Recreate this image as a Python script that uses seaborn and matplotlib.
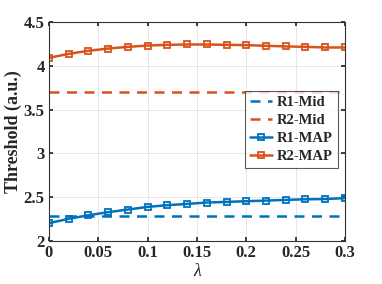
import numpy as np
import pandas as pd
import matplotlib
matplotlib.use("Agg")
import matplotlib.pyplot as plt
import seaborn as sns

lam = [0, 0.02, 0.04, 0.06, 0.08, 0.10, 0.12, 0.14, 0.16, 0.18, 0.20, 0.22, 0.24, 0.26, 0.28, 0.30]
r1_map = [2.205, 2.254, 2.295, 2.33, 2.36, 2.39, 2.41, 2.424, 2.44, 2.447, 2.455, 2.462, 2.47, 2.477, 2.48, 2.49]
r2_map = [4.09, 4.135, 4.17, 4.196, 4.215, 4.23, 4.238, 4.242, 4.242, 4.238, 4.235, 4.227, 4.22, 4.215, 4.208, 4.208]
r1_mid = 2.288
r2_mid = 3.70
xticks = [0, 0.05, 0.1, 0.15, 0.2, 0.25, 0.3]
xticklabels = ["0", "0.05", "0.1", "0.15", "0.2", "0.25", "0.3"]
yticks = [2, 2.5, 3, 3.5, 4, 4.5]
yticklabels = ["2", "2.5", "3", "3.5", "4", "4.5"]

blue = "#0072BD"
orange = "#D95319"

sns.set_theme(style="whitegrid")
plt.rcParams['font.family'] = ['Liberation Serif', 'DejaVu Serif']
plt.rcParams['font.weight'] = 'bold'

fig = plt.figure(figsize=(3.82, 2.84), dpi=100)
ax = fig.add_axes([0.128, 0.151, 0.775, 0.772])

mid_df = pd.DataFrame({"x": [0, 0.3, 0, 0.3], "y": [r1_mid, r1_mid, r2_mid, r2_mid],
                       "s": ["R1-Mid", "R1-Mid", "R2-Mid", "R2-Mid"]})
sns.lineplot(data=mid_df[mid_df.s == "R1-Mid"], x="x", y="y", ax=ax, color=blue, lw=1.8,
             linestyle=(0, (4, 3)), label="R1-Mid")
sns.lineplot(data=mid_df[mid_df.s == "R2-Mid"], x="x", y="y", ax=ax, color=orange, lw=1.8,
             linestyle=(0, (4, 3)), label="R2-Mid")
sns.lineplot(x=lam, y=r1_map, ax=ax, color=blue, lw=1.8, marker="s", markersize=5,
             markerfacecolor="none", markeredgecolor=blue, markeredgewidth=1.3, label="R1-MAP")
sns.lineplot(x=lam, y=r2_map, ax=ax, color=orange, lw=1.8, marker="s", markersize=5,
             markerfacecolor="none", markeredgecolor=orange, markeredgewidth=1.3, label="R2-MAP")

ax.set_xlim(0, 0.3)
ax.set_ylim(2, 4.5)
ax.set_xticks(xticks)
ax.set_xticklabels(xticklabels, fontsize=12, fontweight='bold')
ax.set_yticks(yticks)
ax.set_yticklabels(yticklabels, fontsize=12, fontweight='bold')
ax.set_xlabel("λ", fontsize=13, fontstyle='italic', fontweight='normal', labelpad=1)
ax.set_ylabel("Threshold (a.u.)", fontsize=13, fontweight='bold', labelpad=1)
ax.grid(True, color="#e6e6e6", lw=0.7)
for sp in ax.spines.values():
    sp.set_color("#333333")
    sp.set_linewidth(0.8)
ax.tick_params(axis='both', which='both', length=3, direction='in', pad=3, colors="#262626",
               top=True, right=True, bottom=True, left=True)
ax.set_facecolor("white")

leg = ax.legend(loc="upper right", bbox_to_anchor=(0.975, 0.685), borderaxespad=0,
                frameon=True, fancybox=False, edgecolor="#333333", handlelength=1.5,
                handletextpad=0.3, borderpad=0.35, labelspacing=0.32,
                prop={'weight': 'bold', 'size': 10.5})
leg.get_frame().set_linewidth(0.8)

fig.savefig("out.png", dpi=100)
